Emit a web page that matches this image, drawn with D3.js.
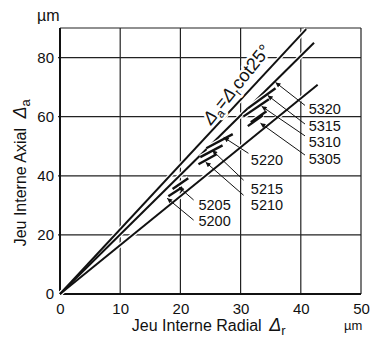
<!DOCTYPE html>
<html><head><meta charset="utf-8">
<script src="https://cdn.jsdelivr.net/npm/d3@7"></script>
<style>
body{margin:0;background:#fff;}
text{font-family:"Liberation Sans Narrow","Arial Narrow","Liberation Sans",Arial,sans-serif;fill:#111;}
</style></head><body>
<svg id="c" width="372" height="341"></svg>
<script>
// axis ticks
const xTicks = [0,10,20,30,40,50];
const yTicks = [0,20,40,60,80];
// long reference lines: [radial end, axial end] (start at origin)
const lineNames = ["cot25", "upper", "lower"];
const lineEndR = [40.9, 42.2, 42.8];
const lineEndA = [89.6, 85.0, 70.8];
// bearing series short segments (radial/axial ranges)
const series = ["5320","5315","5310","5305","5220","5215","5210","5205","5200"];
const segR1 = [31.2, 30.5, 31.7, 31.2, 24.3, 23.3, 23.0, 18.7, 18.0];
const segA1 = [62.8, 60.1, 58.1, 56.8, 49.3, 46.3, 43.9, 35.5, 33.1];
const segR2 = [35.8, 34.7, 34.3, 33.7, 28.7, 27.0, 26.0, 21.3, 20.3];
const segA2 = [69.6, 65.9, 61.8, 60.5, 54.1, 50.3, 47.3, 39.2, 36.1];
// annotation arrows (tip on segment, tail near label) and label anchors, in data units
const tipR  = [35.8, 34.5, 33.5, 33.3, 27.2, 25.3, 24.2, 19.8, 17.8];
const tipA  = [71.6, 67.2, 63.5, 57.8, 53.0, 48.6, 44.6, 36.1, 32.4];
const tailR = [40.7, 40.7, 40.7, 40.7, 31.3, 30.5, 30.5, 22.2, 22.2];
const tailA = [63.8, 57.5, 53.5, 47.0, 47.6, 38.5, 33.4, 31.8, 25.0];
const labR  = [41.3, 41.3, 41.3, 41.3, 31.7, 31.7, 31.7, 23.0, 23.0];
const labA  = [60.9, 55.1, 49.6, 44.0, 43.6, 33.8, 28.4, 28.4, 23.0];

const svg = d3.select("#c");
const m = {l:60, t:28, r:11, b:47};
const W = 372 - m.l - m.r, H = 341 - m.t - m.b;
const x = d3.scaleLinear().domain([0,50]).range([m.l, m.l+W]);
const y = d3.scaleLinear().domain([0,90]).range([m.t+H, m.t]);

const defs = svg.append("defs");
defs.append("marker").attr("id","ah").attr("viewBox","0 0 10 10").attr("refX",10).attr("refY",5)
  .attr("markerWidth",7).attr("markerHeight",5).attr("orient","auto").attr("markerUnits","userSpaceOnUse")
  .append("path").attr("d","M0,0L10,5L0,10z").attr("fill","#111");

// grid
const g = svg.append("g");
g.selectAll("line.v").data(xTicks.slice(1,-1)).join("line")
  .attr("x1",d=>x(d)).attr("x2",d=>x(d)).attr("y1",y(0)).attr("y2",y(90))
  .attr("stroke","#222").attr("stroke-width",1.2);
g.selectAll("line.h").data(yTicks.slice(1)).join("line")
  .attr("x1",x(0)-2).attr("x2",x(50)).attr("y1",d=>y(d)).attr("y2",d=>y(d))
  .attr("stroke","#222").attr("stroke-width",1.2);
// frame
g.append("line").attr("x1",x(0)).attr("x2",x(50)).attr("y1",y(90)).attr("y2",y(90)).attr("stroke","#222").attr("stroke-width",1.2);
g.append("line").attr("x1",x(50)).attr("x2",x(50)).attr("y1",y(0)).attr("y2",y(90)).attr("stroke","#222").attr("stroke-width",1.2);

// axes
const xa = svg.append("g").attr("transform",`translate(0,${y(0)})`)
  .call(d3.axisBottom(x).tickValues(xTicks).tickSize(0).tickPadding(9));
const ya = svg.append("g").attr("transform",`translate(${x(0)},0)`)
  .call(d3.axisLeft(y).tickValues(yTicks).tickSize(0).tickPadding(6));
[xa,ya].forEach(a=>{a.select(".domain").remove();a.selectAll("text").attr("font-size",15).attr("fill","#111")
  .style("font-family",'"Liberation Sans Narrow","Arial Narrow",Arial,sans-serif');});
svg.append("line").attr("x1",x(0)).attr("x2",x(50)).attr("y1",y(0)).attr("y2",y(0)).attr("stroke","#111").attr("stroke-width",2);
svg.append("line").attr("x1",x(0)).attr("x2",x(0)).attr("y1",y(0)).attr("y2",y(90)).attr("stroke","#111").attr("stroke-width",2);

// long lines with white casing
const lg = svg.append("g");
const ld = lineNames.map((n,i)=>({r:lineEndR[i],a:lineEndA[i]}));
lg.selectAll("line.case").data(ld).join("line").attr("x1",x(0)).attr("y1",y(0))
  .attr("x2",d=>x(d.r)).attr("y2",d=>y(d.a)).attr("stroke","#fff").attr("stroke-width",4.5);
lg.selectAll("line.ink").data(ld).join("line").attr("x1",x(0)).attr("y1",y(0))
  .attr("x2",d=>x(d.r)).attr("y2",d=>y(d.a)).attr("stroke","#111").attr("stroke-width",2);

// segments
const sd = series.map((s,i)=>({s,r1:segR1[i],a1:segA1[i],r2:segR2[i],a2:segA2[i],
  tr:tipR[i],ta:tipA[i],lr:tailR[i],la:tailA[i],xr:labR[i],xa:labA[i]}));
const sg = svg.append("g");
sg.selectAll("line.case").data(sd).join("line")
  .attr("x1",d=>x(d.r1)).attr("y1",d=>y(d.a1)).attr("x2",d=>x(d.r2)).attr("y2",d=>y(d.a2))
  .attr("stroke","#fff").attr("stroke-width",5);
sg.selectAll("line.ink").data(sd).join("line")
  .attr("x1",d=>x(d.r1)).attr("y1",d=>y(d.a1)).attr("x2",d=>x(d.r2)).attr("y2",d=>y(d.a2))
  .attr("stroke","#111").attr("stroke-width",2.4);

// arrows
sg.selectAll("line.arr").data(sd).join("line")
  .attr("x1",d=>x(d.lr)).attr("y1",d=>y(d.la)).attr("x2",d=>x(d.tr)).attr("y2",d=>y(d.ta))
  .attr("stroke","#111").attr("stroke-width",1).attr("marker-end","url(#ah)");
sg.selectAll("text").data(sd).join("text")
  .attr("x",d=>x(d.xr)).attr("y",d=>y(d.xa)).attr("font-size",14.5).text(d=>d.s);

// formula label along main line
const ft = svg.append("text").attr("transform",`translate(${x(29.3)},${y(71)}) rotate(-51)`)
  .attr("text-anchor","middle").attr("dy","0.35em").attr("font-size",18)
  .attr("stroke","#fff").attr("stroke-width",5).attr("paint-order","stroke").attr("stroke-linejoin","round");
ft.append("tspan").attr("font-style","italic").text("Δ");
ft.append("tspan").attr("font-size",12).attr("dy",4).text("a");
ft.append("tspan").attr("dy",-4).text("=");
ft.append("tspan").attr("font-style","italic").text("Δ");
ft.append("tspan").attr("font-size",12).attr("dy",4).text("r");
ft.append("tspan").attr("dy",-4).text("cot25°");

// axis titles
const xt = svg.append("text").attr("x",x(24.7)).attr("y",331).attr("text-anchor","middle").attr("font-size",16);
xt.append("tspan").text("Jeu Interne Radial ");
xt.append("tspan").attr("font-style","italic").attr("dx",3).attr("font-size",18).text("Δ");
xt.append("tspan").attr("font-size",13).attr("dy",4).text("r");
const yt = svg.append("text").attr("transform",`translate(26,${y(41)}) rotate(-90)`).attr("text-anchor","middle").attr("font-size",16);
yt.append("tspan").text("Jeu Interne Axial ");
yt.append("tspan").attr("font-style","italic").attr("dx",5).attr("font-size",18).text("Δ");
yt.append("tspan").attr("font-size",13).attr("dy",4).text("a");
// units
svg.append("text").attr("x",x(0)-23).attr("y",21).attr("font-size",16).text("µm");
svg.append("text").attr("x",x(50)-17).attr("y",330).attr("font-size",13).text("µm");
</script></body></html>
